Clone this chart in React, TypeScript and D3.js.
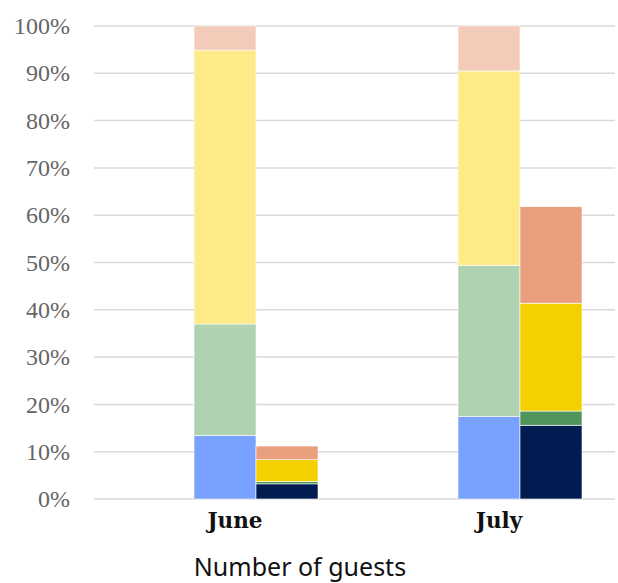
import React from "react";
import * as d3 from "d3";

// Share of guests per month (percent). Two stacked columns per month.
const months = ["June", "July"];
const mainSegments = ["base", "mid", "upper", "top"];
const juneMain = [13.4, 23.6, 57.9, 5.1];
const julyMain = [17.4, 32.0, 41.1, 9.5];
const juneSide = [3.2, 0.5, 4.6, 2.9];
const julySide = [15.6, 3.0, 22.8, 20.4];
const mainColors = ["#79A1FF", "#AFD2B1", "#FEEB88", "#F3CBB8"];
const sideColors = ["#001C50", "#50955A", "#F5D000", "#EAA07E"];
const yTicks = [0, 10, 20, 30, 40, 50, 60, 70, 80, 90, 100];
const xTitle = "Number of guests";

const W = 618;
const H = 583;

export default function App() {
  const y = d3.scaleLinear().domain([0, 100]).range([499, 26]);
  const x = d3.scalePoint<string>().domain(months).range([256, 520]);
  const sub = d3.scaleBand<string>().domain(["main", "side"]).range([-62, 62]).padding(0);

  const toRows = (vals: number[][]) =>
    months.map((m, i) => {
      const row: Record<string, any> = { month: m };
      mainSegments.forEach((k, j) => (row[k] = vals[i][j]));
      return row;
    });
  const stack = d3.stack<any>().keys(mainSegments);
  const mainStack = stack(toRows([juneMain, julyMain]));
  const sideStack = stack(toRows([juneSide, julySide]));

  const bars = (layers: d3.Series<any, string>[], group: string, colors: string[]) =>
    layers.map((layer, li) =>
      layer.map((d, i) => {
        const x0 = (x(months[i]) as number) + (sub(group) as number);
        return (
          <rect
            key={`${group}-${li}-${i}`}
            x={x0}
            y={y(d[1])}
            width={sub.bandwidth()}
            height={y(d[0]) - y(d[1])}
            fill={colors[li]}
            stroke="#fff"
            strokeWidth={0.6}
          />
        );
      })
    );

  return (
    <svg width={W} height={H} style={{ position: "absolute", left: 0, top: 0, background: "#fff" }}>
      <g>
        {yTicks.map((t) => (
          <line key={t} x1={94} x2={615} y1={y(t)} y2={y(t)} stroke="#D9D9D9" strokeWidth={1.5} />
        ))}
      </g>
      {bars(mainStack, "main", mainColors)}
      {bars(sideStack, "side", sideColors)}
      <g fontFamily="'Liberation Serif', serif" fontSize={24} fill="#666" textAnchor="end">
        {yTicks.map((t) => (
          <text key={t} x={70} y={y(t)} dy="0.34em">
            {`${t}%`}
          </text>
        ))}
      </g>
      <g fontFamily="'DejaVu Serif', serif" fontWeight="bold" fontSize={21.5} fill="#111" textAnchor="middle">
        {months.map((m) => (
          <text key={m} x={(x(m) as number) - 21} y={528}>
            {m}
          </text>
        ))}
      </g>
      <text x={300} y={576} textAnchor="middle" fontFamily="'Noto Sans', sans-serif" fontSize={25} fill="#111">
        {xTitle}
      </text>
    </svg>
  );
}
